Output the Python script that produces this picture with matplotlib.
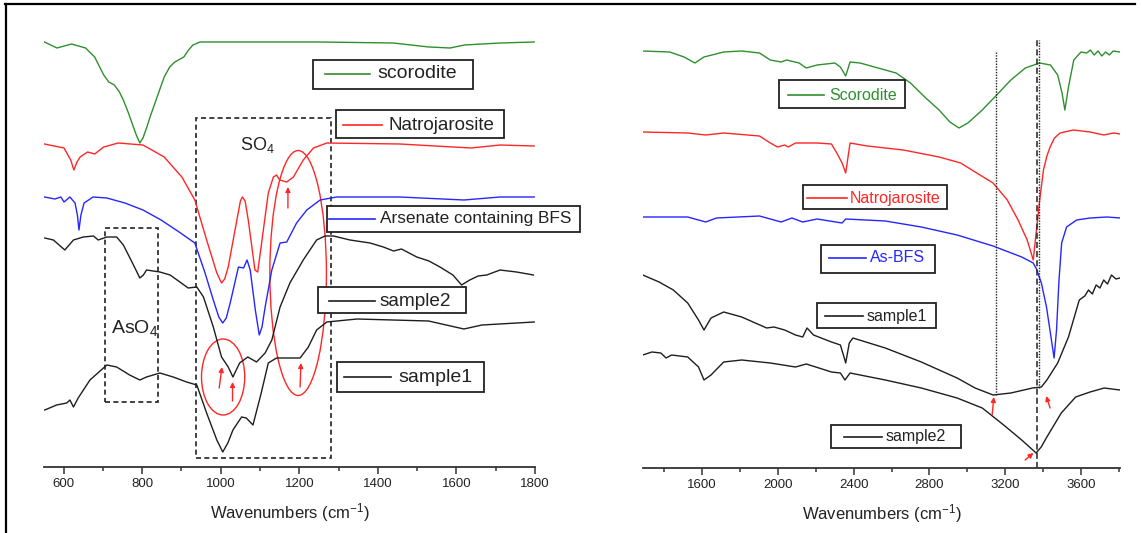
import numpy as np
import matplotlib.pyplot as plt
from matplotlib.patches import Rectangle, Ellipse
from matplotlib.lines import Line2D
from matplotlib.ticker import MultipleLocator

plt.rcParams['font.family'] = ['Liberation Sans', 'DejaVu Sans']
plt.rcParams['mathtext.fontset'] = 'custom'
plt.rcParams['mathtext.rm'] = 'Liberation Sans'
plt.rcParams['mathtext.it'] = 'Liberation Sans:italic'

GREEN, RED, BLUE, BLACK = '#2f8f2f', '#ff2626', '#2626ff', '#1e1e1e'

# ---- left panel (550-1800 cm-1), offset transmittance, a.u.
wn_scor_l = [551, 583, 620, 656, 679, 702, 715, 729, 742, 752, 765, 774, 785, 794, 802,
             811, 820, 838, 856, 870, 883, 897, 906, 918, 929, 947,
             1074, 1255, 1439, 1530, 1584, 1620, 1711, 1798]
t_scor_l = [423, 417, 421, 417, 408, 390, 383, 380, 373, 365, 352, 342, 330, 322, 327,
            337, 348, 368, 388, 398, 403, 406, 408, 415, 420, 423,
            423, 423, 422, 418, 417, 420, 422, 423]

wn_natro_l = [551, 601, 618, 626, 634, 642, 661, 679, 702, 739, 802, 856, 901, 934, 964,
              990, 1002, 1010, 1019, 1041, 1050, 1055, 1062, 1070, 1087, 1094, 1104, 1121,
              1134, 1142, 1150, 1168, 1185, 1210, 1236, 1270, 1456, 1637, 1711, 1798]
t_natro_l = [321, 317, 305, 295, 303, 308, 313, 311, 318, 322, 320, 308, 288, 265, 225,
             192, 182, 186, 198, 245, 264, 268, 264, 245, 195, 193, 222, 272,
             288, 290, 285, 283, 288, 305, 317, 322, 321, 317, 320, 319]

wn_bfs_l = [551, 578, 593, 601, 616, 629, 635, 639, 644, 652, 675, 710, 756, 802, 848, 894,
            934, 960, 981, 995, 1005, 1014, 1024, 1045, 1058, 1067, 1075, 1088, 1098, 1105,
            1113, 1130, 1151, 1168, 1193, 1219, 1253, 1295, 1456, 1619, 1711, 1798]
t_bfs_l = [268, 266, 268, 263, 268, 262, 250, 235, 250, 262, 268, 267, 262, 255, 245, 233,
           222, 192, 165, 148, 142, 147, 162, 198, 197, 205, 195, 155, 130, 138,
           158, 195, 222, 223, 242, 255, 265, 268, 268, 265, 268, 268]

wn_s2_l = [552, 574, 603, 625, 650, 676, 688, 710, 735, 752, 774, 794, 803, 811, 845, 871,
           896, 917, 939, 956, 981, 1002, 1019, 1031, 1048, 1069, 1091, 1113, 1130, 1151,
           1176, 1210, 1244, 1265, 1287, 1329, 1380, 1414, 1440, 1460, 1499, 1530, 1558,
           1591, 1613, 1634, 1655, 1677, 1711, 1753, 1796]
t_s2_l = [227, 225, 215, 225, 228, 229, 225, 228, 228, 220, 203, 187, 190, 195, 193, 190,
          183, 177, 178, 168, 138, 108, 98, 88, 102, 108, 103, 112, 125, 158,
          182, 205, 225, 229, 229, 225, 222, 218, 214, 216, 208, 204, 198,
          190, 180, 185, 189, 190, 195, 193, 190]

wn_s1_l = [552, 582, 608, 616, 625, 637, 667, 710, 735, 768, 794, 811, 845, 879, 913, 939,
           964, 990, 1005, 1018, 1031, 1053, 1065, 1082, 1103, 1121, 1142, 1176, 1202,
           1223, 1244, 1270, 1347, 1529, 1619, 1665, 1798]
t_s1_l = [55, 60, 62, 65, 58, 67, 85, 100, 98, 90, 85, 88, 92, 88, 83, 80,
          52, 25, 13, 22, 35, 48, 47, 40, 72, 102, 107, 107, 107,
          118, 135, 143, 146, 144, 136, 140, 143]

# ---- right panel (1300-3800 cm-1)
wn_scor_r = [1287, 1429, 1505, 1562, 1610, 1714, 1809, 1903, 1960, 2017, 2046, 2112, 2150,
             2207, 2301, 2330, 2358, 2381, 2434, 2529, 2624, 2700, 2775, 2851, 2908, 2956,
             3003, 3079, 3155, 3230, 3306, 3382, 3439, 3477, 3500, 3515, 3534, 3562, 3600,
             3630, 3650, 3670, 3690, 3710, 3730, 3750, 3770, 3805]
t_scor_r = [417, 416, 411, 405, 411, 416, 417, 415, 408, 406, 408, 405, 400,
            403, 405, 401, 392, 406, 405, 400, 395, 385, 371, 358, 346, 340,
            345, 358, 373, 388, 400, 405, 403, 393, 375, 358, 381, 408, 416,
            415, 418, 413, 417, 412, 416, 413, 417, 416]

wn_natro_r = [1287, 1524, 1619, 1714, 1903, 1960, 1998, 2036, 2055, 2093, 2207, 2283, 2311,
              2339, 2358, 2381, 2472, 2662, 2851, 2965, 3041, 3136, 3211, 3268, 3316, 3348,
              3365, 3384, 3402, 3420, 3437, 3460, 3490, 3560, 3648, 3720, 3773, 3807]
t_natro_r = [336, 335, 333, 335, 332, 325, 321, 323, 321, 325, 325, 324, 315,
             305, 295, 325, 322, 318, 311, 305, 296, 285, 268, 248, 228, 208,
             238, 271, 298, 312, 321, 330, 335, 338, 336, 333, 335, 334]

wn_bfs_r = [1287, 1524, 1619, 1676, 1903, 2017, 2074, 2131, 2207, 2339, 2358, 2567, 2757,
            2946, 3136, 3287, 3348, 3365, 3391, 3418, 3444, 3458, 3471, 3484, 3498, 3524,
            3577, 3648, 3737, 3807]
t_bfs_r = [251, 251, 246, 250, 252, 246, 250, 246, 249, 245, 249, 247, 241,
           233, 222, 211, 205, 199, 185, 161, 128, 110, 138, 188, 225, 241,
           248, 250, 251, 250]

wn_s1_r = [1287, 1373, 1448, 1524, 1581, 1610, 1647, 1714, 1809, 1941, 1979, 2036, 2093,
           2131, 2154, 2188, 2283, 2330, 2349, 2358, 2377, 2396, 2567, 2757, 2946, 3041,
           3136, 3230, 3344, 3391, 3420, 3477, 3534, 3591, 3620, 3640, 3660, 3680, 3700,
           3720, 3740, 3761, 3785, 3805]
t_s1_r = [193, 186, 178, 165, 148, 138, 150, 156, 151, 140, 141, 138, 133,
          131, 140, 133, 126, 123, 111, 105, 125, 130, 120, 106, 90, 80,
          73, 75, 80, 81, 88, 105, 131, 168, 172, 178, 174, 183, 180,
          188, 184, 193, 189, 190]

wn_s2_r = [1287, 1335, 1382, 1410, 1439, 1524, 1581, 1610, 1647, 1714, 1809, 1960, 2093,
           2150, 2283, 2330, 2354, 2381, 2567, 2757, 2946, 3079, 3192, 3287, 3340, 3363,
           3390, 3420, 3496, 3572, 3648, 3723, 3805]
t_s2_r = [113, 116, 115, 110, 113, 111, 101, 88, 93, 106, 108, 105, 101,
          104, 96, 95, 88, 95, 88, 80, 70, 60, 43, 28, 19, 15,
          21, 31, 55, 71, 76, 80, 78]


def style(ax, xlim, ylim, major, minor):
    ax.set_xlim(*xlim)
    ax.set_ylim(*ylim)
    for s in ('left', 'right', 'top'):
        ax.spines[s].set_visible(False)
    ax.spines['bottom'].set_linewidth(1.3)
    ax.spines['bottom'].set_color('#333333')
    ax.set_yticks([])
    ax.xaxis.set_major_locator(MultipleLocator(major))
    ax.xaxis.set_minor_locator(MultipleLocator(minor))
    ax.tick_params(axis='x', which='major', direction='out', length=5, width=1.1,
                   color='#333333', labelsize=9.5, labelcolor='#222222', pad=3)
    ax.tick_params(axis='x', which='minor', direction='out', length=2.8, width=1.1,
                   color='#333333')
    ax.set_xlabel('Wavenumbers (cm$^{-1}$)', fontsize=12, color='#222222', labelpad=8)
    ax.patch.set_alpha(0)


def key_box(ax, box, seg, y, tx, label, color, tcolor, fs):
    x0, x1, y0, y1 = box
    ax.add_patch(Rectangle((x0, y0), x1 - x0, y1 - y0, fill=True, fc='white',
                           ec='#222222', lw=1.3, clip_on=False, zorder=5))
    ax.add_line(Line2D(seg, [y, y], color=color, lw=1.2, clip_on=False, zorder=6))
    ax.text(tx, y, label, color=tcolor, fontsize=fs, va='center', ha='left',
            clip_on=False, zorder=6)


def red_arrow(ax, tail, head):
    ax.annotate('', xy=head, xytext=tail, annotation_clip=False,
                arrowprops=dict(arrowstyle='-|>', color=RED, lw=1.0,
                                mutation_scale=7, shrinkA=0, shrinkB=0))


fig = plt.figure(figsize=(11.43, 5.33), dpi=100)
axL = fig.add_axes([44 / 1143, (533 - 466.7) / 533, 491 / 1143, 446.7 / 533])
axR = fig.add_axes([643 / 1143, (533 - 468.3) / 533, 477 / 1143, 448.3 / 533])

# left panel
axL.plot(wn_scor_l, t_scor_l, color=GREEN, lw=1.0)
axL.plot(wn_natro_l, t_natro_l, color=RED, lw=1.0)
axL.plot(wn_bfs_l, t_bfs_l, color=BLUE, lw=1.0)
axL.plot(wn_s2_l, t_s2_l, color=BLACK, lw=1.0)
axL.plot(wn_s1_l, t_s1_l, color=BLACK, lw=1.0)
style(axL, (550, 1800), (-1.7, 445), 200, 100)

# dashed regions
axL.add_patch(Rectangle((937, 7), 344, 340, fill=False, ec='#222222', lw=1.2,
                        ls=(0, (3, 2)), clip_on=False))
axL.add_patch(Rectangle((705, 63), 135, 174, fill=False, ec='#222222', lw=1.2,
                        ls=(0, (3, 2)), clip_on=False))
axL.text(1092, 320, 'SO$_4$', fontsize=13, ha='center', va='center', color='#222222')
axL.text(720, 137, 'AsO$_4$', fontsize=14, ha='left', va='center', color='#222222')
axL.add_patch(Ellipse((1006, 88), 110, 76, fill=False, ec=RED, lw=1.0))
axL.add_patch(Ellipse((1197, 192), 144, 245, fill=False, ec=RED, lw=1.0))
red_arrow(axL, (1171, 257), (1171, 278))
red_arrow(axL, (996, 77), (1003, 98))
red_arrow(axL, (1030, 64), (1030, 83))
red_arrow(axL, (1202, 78), (1204, 102))

key_box(axL, (1234, 1642, 376, 405), [1266, 1380], 391, 1399, 'scorodite', GREEN, '#222222', 14)
key_box(axL, (1293, 1720, 327, 355), [1311, 1410], 340, 1428, 'Natrojarosite', RED, '#222222', 13.5)
key_box(axL, (1270, 1914, 233, 259), [1275, 1393], 246, 1405, 'Arsenate containing BFS', BLUE, '#222222', 12.4)
key_box(axL, (1248, 1624, 152, 178), [1275, 1393], 164, 1405, 'sample2', BLACK, '#222222', 13.7)
key_box(axL, (1297, 1670, 73, 103), [1315, 1433], 88, 1451, 'sample1', BLACK, '#222222', 14)

# right panel
axR.plot(wn_scor_r, t_scor_r, color=GREEN, lw=1.0)
axR.plot(wn_natro_r, t_natro_r, color=RED, lw=1.0)
axR.plot(wn_bfs_r, t_bfs_r, color=BLUE, lw=1.0)
axR.plot(wn_s1_r, t_s1_r, color=BLACK, lw=1.0)
axR.plot(wn_s2_r, t_s2_r, color=BLACK, lw=1.0)
style(axR, (1288, 3806), (-0.3, 448), 400, 200)

axR.vlines(3152, 73, 416, colors='#222222', linestyles=(0, (1, 1)), lw=1.0)
axR.vlines(3376, 80, 428, colors='#222222', linestyles=(0, (1, 1)), lw=1.0)
axR.vlines(3366, 0, 428, colors='#222222', linestyles=(0, (4, 2)), lw=1.1)
red_arrow(axR, (3131, 53), (3140, 71))
red_arrow(axR, (3437, 60), (3416, 72))
red_arrow(axR, (3305, 8), (3349, 15))

key_box(axR, (2005, 2672, 360, 388), [2052, 2245], 373, 2269, 'Scorodite', GREEN, GREEN, 11.5)
key_box(axR, (2132, 2892, 259, 283), [2153, 2363], 270, 2377, 'Natrojarosite', RED, RED, 11.5)
key_box(axR, (2227, 2827, 195, 223), [2268, 2467], 210, 2485, 'As-BFS', BLUE, BLUE, 11.5)
key_box(axR, (2206, 2837, 140, 165), [2248, 2449], 152, 2467, 'sample1', BLACK, '#222222', 11.5)
key_box(axR, (2279, 2966, 20, 43), [2351, 2552], 31, 2571, 'sample2', BLACK, '#222222', 11.5)

# outer frame (top and left edges only)
fig.add_artist(Line2D([5 / 1143, 1135 / 1143], [1 - 4 / 533, 1 - 4 / 533],
                      transform=fig.transFigure, color='black', lw=1.6))
fig.add_artist(Line2D([6 / 1143, 6 / 1143], [0, 1 - 4 / 533],
                      transform=fig.transFigure, color='black', lw=1.6))

fig.savefig('out.png', dpi=100)
